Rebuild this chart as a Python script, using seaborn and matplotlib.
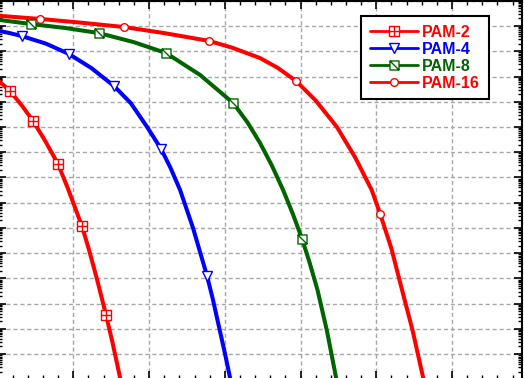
import numpy as np
import matplotlib
matplotlib.use("Agg")
import matplotlib.pyplot as plt
from matplotlib.path import Path
from matplotlib.lines import Line2D
from matplotlib.ticker import MultipleLocator, LogLocator, NullFormatter
import seaborn as sns

# ---- data (SNR in dB, BER) ----
labels = ["PAM-2", "PAM-4", "PAM-8", "PAM-16"]

pam2_snr = [0, 0.82, 1.6, 2.34, 3.15, 3.99, 4.65, 5.57, 6.05, 6.56, 7.16, 7.6, 8.09, 8.2]
pam2_ber = [7.41e-4, 2.66e-4, 7.08e-5, 1.74e-5, 2.75e-6, 3.39e-7, 3.55e-8, 1.17e-9,
            1.26e-10, 9.33e-12, 3.55e-13, 2.63e-14, 1.12e-15, 5.0e-16]
pam2_mk = [1, 3, 5, 7, 10]

pam4_snr = [0, 0.8, 1.61, 3.2, 4.72, 6.2, 7.69, 8.8, 9.87, 10.79, 11.4, 12.05, 12.9,
            13.83, 14.2, 14.56, 15.0, 15.35, 15.45]
pam4_ber = [6.61e-2, 5.25e-2, 3.98e-2, 2.0e-2, 7.76e-3, 2.14e-3, 4.17e-4, 8.71e-5, 1e-5,
            1.35e-6, 2.51e-7, 3.16e-8, 1e-9, 1.23e-11, 1.58e-12, 1.70e-13, 1.12e-14,
            1.12e-15, 5.0e-16]
pam4_mk = [2, 4, 6, 9, 13]

pam8_snr = [0, 2.21, 4.5, 6.70, 9.0, 11.12, 13.37, 15.55, 16.5, 17.33, 18.1, 18.85, 19.5,
            20.1, 20.6, 21.12, 21.75, 22.35, 22.5]
pam8_ber = [0.178, 0.120, 8.32e-2, 5.25e-2, 2.29e-2, 8.51e-3, 1.15e-3, 8.91e-5, 1.51e-5,
            2.29e-6, 3.02e-7, 3.16e-8, 3.47e-9, 3.63e-10, 4.17e-11, 3.47e-12, 7.94e-14,
            1.12e-15, 5.0e-16]
pam8_mk = [1, 3, 5, 7, 13]

pam16_snr = [0, 2.80, 5.5, 8.35, 11.0, 13.96, 15.5, 17.33, 18.5, 19.71, 21.0, 22.4, 23.6,
             24.7, 25.26, 26.0, 26.7, 27.4, 28.1, 28.25]
pam16_ber = [0.257, 0.191, 0.136, 9.12e-2, 5.25e-2, 2.57e-2, 1.38e-2, 5.37e-3, 2.19e-3,
             6.61e-4, 1.12e-4, 1e-5, 6.31e-7, 3.16e-8, 3.55e-9, 1.51e-10, 3.47e-12,
             8.51e-14, 1.12e-15, 5.0e-16]
pam16_mk = [1, 3, 5, 9, 14]

colors = ["#ff0000", "#0000ff", "#006400", "#ff0000"]

# ---- custom markers ----
sq = [(-1, -1), (1, -1), (1, 1), (-1, 1), (-1, -1)]
sq_codes = [Path.MOVETO, Path.LINETO, Path.LINETO, Path.LINETO, Path.CLOSEPOLY]
box_plus = Path(sq + [(0, -1), (0, 1), (-1, 0), (1, 0)],
                sq_codes + [Path.MOVETO, Path.LINETO, Path.MOVETO, Path.LINETO])
box_diag = Path(sq + [(-1, 1), (1, -1)],
                sq_codes + [Path.MOVETO, Path.LINETO])
markers = [box_plus, "v", box_diag, "o"]
msizes = [6.5, 6.5, 6.5, 5.5]

sns.set_theme(style="white")
plt.rcParams["font.family"] = ["Liberation Sans", "DejaVu Sans"]

W, H = 524, 378
fig = plt.figure(figsize=(W / 100, H / 100), dpi=100)
left_px, right_px, top_px, bot_px = -2.4, 521.7, 0.8, 379.3
ax = fig.add_axes([left_px / W, (H - bot_px) / H, (right_px - left_px) / W, (bot_px - top_px) / H])

series = [
    (pam2_snr, pam2_ber, pam2_mk),
    (pam4_snr, pam4_ber, pam4_mk),
    (pam8_snr, pam8_ber, pam8_mk),
    (pam16_snr, pam16_ber, pam16_mk),
]

handles = []
for (xs, ys, mk), lab, c, m, ms in zip(series, labels, colors, markers, msizes):
    sns.lineplot(x=xs, y=ys, ax=ax, color=c, lw=2.9, sort=False, estimator=None, legend=False,
                 solid_joinstyle="round", solid_capstyle="round")
    ax.plot(xs, ys, ls="none", marker=m, markevery=mk, mfc="white", mec=c, ms=ms, mew=1.0, zorder=5)
    handles.append(Line2D([], [], color=c, lw=2.0, marker=m, mfc="white", mec=c, ms=ms, mew=1.0))

ax.set_yscale("log")
ax.set_xlim(0, 34.6)
ax.set_ylim(1e-15, 1)
ax.xaxis.set_major_locator(MultipleLocator(5))
ax.xaxis.set_minor_locator(MultipleLocator(1))
ax.yaxis.set_major_locator(LogLocator(base=10, numticks=30))
ax.yaxis.set_minor_locator(LogLocator(base=10, subs=np.arange(2, 10), numticks=300))
ax.yaxis.set_minor_formatter(NullFormatter())

ax.grid(True, which="major", color="#a8a8a8", ls=(0, (3, 2)), lw=1.0)
ax.tick_params(which="both", direction="in", top=True, right=True, bottom=True, left=True,
               labelbottom=False, labelleft=False, color="black")
ax.tick_params(which="major", length=6, width=1.2)
ax.tick_params(which="minor", length=3, width=1.0)
for s in ax.spines.values():
    s.set_color("black")
    s.set_linewidth(1.5)

ax_w = right_px - left_px
ax_h = bot_px - top_px
anchor = ((489 - left_px) / ax_w, 1 - (16 - top_px) / ax_h)
leg = ax.legend(handles, labels, loc="upper right", bbox_to_anchor=anchor, borderaxespad=0,
                frameon=True, fancybox=False, framealpha=1, edgecolor="black",
                prop={"weight": "bold", "size": 11.5}, handlelength=3.0, labelspacing=0.12,
                handletextpad=0.3, borderpad=0.55)
leg.get_frame().set_linewidth(1.5)
for t, c in zip(leg.get_texts(), colors):
    t.set_color(c)

fig.savefig("out.png", dpi=100)
